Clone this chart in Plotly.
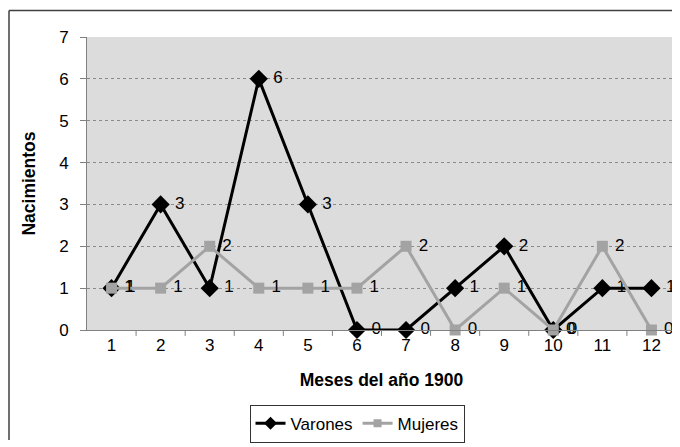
import plotly.graph_objects as go

meses = [1, 2, 3, 4, 5, 6, 7, 8, 9, 10, 11, 12]
varones = [1, 3, 1, 6, 3, 0, 0, 1, 2, 0, 1, 1]
mujeres = [1, 1, 2, 1, 1, 1, 2, 0, 1, 0, 2, 0]
y_ticks = [0, 1, 2, 3, 4, 5, 6, 7]

FONT = "Liberation Sans, Arial, sans-serif"
BLACK = "black"
GRAY = "#a3a3a3"

fig = go.Figure()
fig.add_trace(go.Scatter(
    x=meses, y=varones, name="Varones", mode="lines+markers+text",
    line=dict(color=BLACK, width=3),
    marker=dict(symbol="diamond", size=14, color=BLACK),
    text=[" " + str(v) for v in varones], textposition="middle right",
    textfont=dict(family=FONT, size=17, color="black"),
    cliponaxis=False, showlegend=False,
))
fig.add_trace(go.Scatter(
    x=meses, y=mujeres, name="Mujeres", mode="lines+markers+text",
    line=dict(color=GRAY, width=3),
    marker=dict(symbol="square", size=11, color=GRAY),
    text=[" " + str(v) for v in mujeres], textposition="middle right",
    textfont=dict(family=FONT, size=17, color="black"),
    cliponaxis=False, showlegend=False,
))
# legend entries (smaller legend symbols, as in the reference)
fig.add_trace(go.Scatter(
    x=[None], y=[None], name="Varones", mode="lines+markers",
    line=dict(color=BLACK, width=3),
    marker=dict(symbol="diamond", size=10, color=BLACK),
))
fig.add_trace(go.Scatter(
    x=[None], y=[None], name="Mujeres", mode="lines+markers",
    line=dict(color=GRAY, width=3),
    marker=dict(symbol="square", size=8, color=GRAY),
))

# page body adds 8px offset; figure sized/margined to compensate
W, H = 672, 439
L, R, T, B = 79, 4, 29, 112
PW, PH = W - L - R, H - T - B

def px(x):
    return (x - L) / PW

def py(y):
    return (H - B - y) / PH

border = dict(color="#404040", width=1.5)

fig.update_layout(
    width=W, height=H,
    margin=dict(l=L, r=R, t=T, b=B),
    paper_bgcolor="white",
    plot_bgcolor="#dcdcdc",
    font=dict(family=FONT, size=17, color="black"),
    showlegend=True,
    legend=dict(
        orientation="h", x=px(349), xanchor="center", y=py(403), yanchor="top",
        bordercolor="#333333", borderwidth=1, bgcolor="white",
        font=dict(size=17), tracegroupgap=0,
    ),
    xaxis=dict(
        range=[0.5, 12.5], tickmode="array", tickvals=meses,
        ticktext=[str(m) for m in meses],
        showgrid=False, zeroline=False,
        showline=True, linecolor="#808080", linewidth=1,
        title=dict(text="<b>Meses del año 1900</b>", font=dict(size=17.5), standoff=19),
        ticks="",
    ),
    yaxis=dict(
        range=[0, 7], tickvals=y_ticks,
        showgrid=True, gridcolor="#8a8a8a", griddash="dot", gridwidth=1,
        zeroline=False, showline=True, linecolor="#808080", linewidth=1,
        ticks="outside", ticklen=6, tickcolor="#808080",
        ticklabelstandoff=8,
        title=dict(text="<b>Nacimientos</b>", font=dict(size=17.5), standoff=19),
    ),
    shapes=[
        dict(type="line", xref="paper", yref="paper",
             x0=px(1), x1=px(1), y0=py(439), y1=py(2), line=border),
        dict(type="line", xref="paper", yref="paper",
             x0=px(1), x1=px(672), y0=py(2), y1=py(2), line=border),
    ] + [
        dict(type="line", xref="x", yref="paper", x0=m + 0.5, x1=m + 0.5,
             y0=0, y1=-6 / PH, line=dict(color="#808080", width=1))
        for m in meses[:-1]
    ],
)

fig.write_html("out.html")
